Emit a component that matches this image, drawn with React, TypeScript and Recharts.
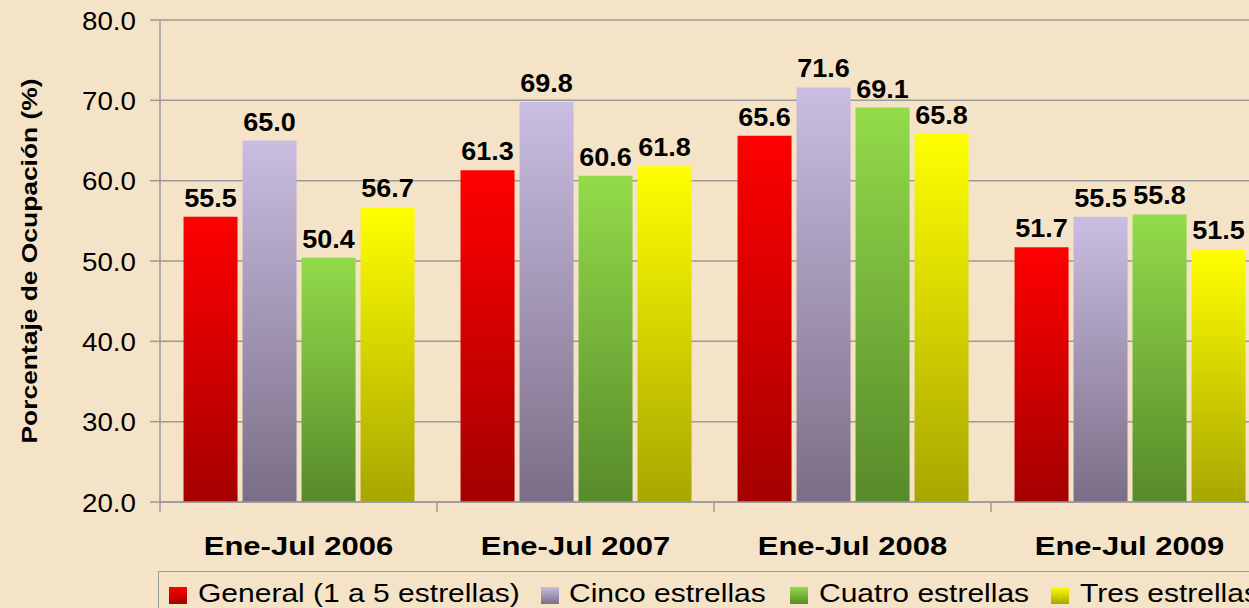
import React from "react";
import { BarChart, Bar, XAxis, YAxis, CartesianGrid, LabelList, Label } from "recharts";

const categories = ["Ene-Jul 2006", "Ene-Jul 2007", "Ene-Jul 2008", "Ene-Jul 2009"];
const general = [55.5, 61.3, 65.6, 51.7];
const cinco = [65.0, 69.8, 71.6, 55.5];
const cuatro = [50.4, 60.6, 69.1, 55.8];
const tres = [56.7, 61.8, 65.8, 51.5];
const yTicks = [20, 30, 40, 50, 60, 70, 80];
const seriesNames = ["General (1 a 5 estrellas)", "Cinco estrellas", "Cuatro estrellas", "Tres estrellas"];

const data = categories.map((c, i) => ({
  name: c,
  general: general[i],
  cinco: cinco[i],
  cuatro: cuatro[i],
  tres: tres[i],
}));

const series = [
  { key: "general", name: seriesNames[0], id: "gRed", top: "#ff0000", bottom: "#a40000", lx: 169, tx: 198 },
  { key: "cinco", name: seriesNames[1], id: "gPur", top: "#c9bde2", bottom: "#7a6e86", lx: 541, tx: 569 },
  { key: "cuatro", name: seriesNames[2], id: "gGrn", top: "#93db4a", bottom: "#578a2a", lx: 790, tx: 819 },
  { key: "tres", name: seriesNames[3], id: "gYel", top: "#ffff00", bottom: "#a8a600", lx: 1051, tx: 1080 },
];

const FONT = "'Liberation Sans', Arial, sans-serif";

const CatTick = (props: any) => {
  const { x, y, payload, index, visibleTicksCount } = props;
  const off = payload.offset || 0;
  return (
    <g>
      <line x1={x - off} y1={y - 8} x2={x - off} y2={y + 2} stroke="#9a9a9a" strokeWidth={1.5} />
      {index === visibleTicksCount - 1 ? (
        <line x1={x + off} y1={y - 8} x2={x + off} y2={y + 2} stroke="#9a9a9a" strokeWidth={1.5} />
      ) : null}
      <text
        transform={`translate(${x}, ${y + 45}) scale(1.24, 1)`}
        textAnchor="middle"
        fontFamily={FONT}
        fontWeight="bold"
        fontSize={25}
        fill="#000"
      >
        {payload.value}
      </text>
    </g>
  );
};

const YTick = (props: any) => {
  const { x, y, payload } = props;
  return (
    <text
      transform={`translate(${x}, ${y + 9.5}) scale(1.11, 1)`}
      textAnchor="end"
      fontFamily={FONT}
      fontSize={25}
      fill="#000"
    >
      {Number(payload.value).toFixed(1)}
    </text>
  );
};

const BarLabel = (p: any) => {
  const { x, y, width, value } = p;
  const cx = Number(x) + Number(width) / 2;
  return (
    <text
      transform={`translate(${cx}, ${Number(y) - 10}) scale(1.08, 1)`}
      textAnchor="middle"
      fontFamily={FONT}
      fontWeight="bold"
      fontSize={25}
      fill="#000"
    >
      {Number(value).toFixed(1)}
    </text>
  );
};

export default function App() {
  return (
    <div
      style={{
        position: "absolute",
        left: 0,
        top: 0,
        width: 1249,
        height: 608,
        overflow: "hidden",
        background: "#f5e3c8",
        fontFamily: FONT,
      }}
    >
      <BarChart
        width={1300}
        height={608}
        data={data}
        margin={{ top: 20, right: 32, bottom: 0, left: 0 }}
        barCategoryGap="8.5%"
        barGap={5}
      >
        <defs>
          {series.map((s) => (
            <linearGradient key={s.id} id={s.id} x1="0" y1="0" x2="0" y2="1">
              <stop offset="0%" stopColor={s.top} />
              <stop offset="100%" stopColor={s.bottom} />
            </linearGradient>
          ))}
        </defs>
        <CartesianGrid vertical={false} stroke="#9a9a9a" strokeWidth={1.5} />
        <XAxis
          dataKey="name"
          height={106}
          interval={0}
          axisLine={{ stroke: "#9a9a9a", strokeWidth: 1.5 }}
          tickLine={false}
          tick={<CatTick />}
        />
        <YAxis
          width={160}
          domain={[20, 80]}
          ticks={yTicks}
          tickSize={10}
          tickMargin={14}
          axisLine={{ stroke: "#9a9a9a", strokeWidth: 1.5 }}
          tickLine={{ stroke: "#9a9a9a", strokeWidth: 1.5 }}
          tick={<YTick />}
          allowDataOverflow
        >
          <Label
            value="Porcentaje de Ocupación (%)"
            position="insideLeft"
            content={(p: any) => {
              const vb = p.viewBox || {};
              const cy = vb.y + vb.height / 2;
              return (
                <text
                  transform={`translate(29, ${cy}) rotate(-90) scale(1.2, 1)`}
                  textAnchor="middle"
                  dominantBaseline="central"
                  fontFamily={FONT}
                  fontWeight="bold"
                  fontSize={22}
                  fill="#000"
                >
                  Porcentaje de Ocupación (%)
                </text>
              );
            }}
          />
        </YAxis>
        {series.map((s) => (
          <Bar key={s.key} dataKey={s.key} name={s.name} fill={`url(#${s.id})`} isAnimationActive={false}>
            <LabelList dataKey={s.key} content={<BarLabel />} />
          </Bar>
        ))}
      </BarChart>
      <div
        style={{
          position: "absolute",
          left: 158,
          top: 571,
          width: 1200,
          height: 44,
          border: "1.5px solid #9a9a9a",
          boxSizing: "border-box",
        }}
      />
      {series.map((s) => (
        <React.Fragment key={s.key}>
          <div
            style={{
              position: "absolute",
              left: s.lx,
              top: 587,
              width: 18,
              height: 17,
              background: `linear-gradient(${s.top}, ${s.bottom})`,
            }}
          />
          <span
            style={{
              position: "absolute",
              left: s.tx,
              top: 581,
              fontSize: 25,
              lineHeight: "25px",
              color: "#000",
              whiteSpace: "nowrap",
              transform: "scaleX(1.2)",
              transformOrigin: "left center",
            }}
          >
            {s.name}
          </span>
        </React.Fragment>
      ))}
    </div>
  );
}
